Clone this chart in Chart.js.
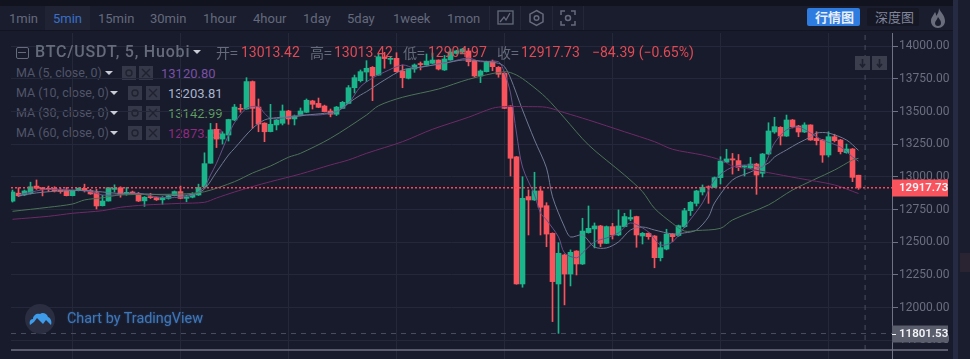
<!DOCTYPE html>
<html><head><meta charset="utf-8">
<script src="https://cdn.jsdelivr.net/npm/chart.js@4"></script>
<style>
html,body{margin:0;padding:0;width:970px;height:359px;overflow:hidden;background:#181b2b;font-family:Roboto,sans-serif}
#wrap{position:relative;width:970px;height:359px;overflow:hidden}
canvas{position:absolute;left:0;top:0;z-index:2}
.a{position:absolute}
.t{position:absolute;white-space:nowrap;line-height:1}
.tab{font-size:13px;top:12px;color:#646a7c}
.lb{font-size:14px;top:45px;color:#666b7c}
.rd{font-size:14px;top:45px;color:#e04a55}
.ma{font-size:12.5px;color:#50556a;z-index:1}
.box{position:absolute;width:14px;height:14px;background:#343848;z-index:1}
.car{position:absolute;width:0;height:0;border-left:4px solid transparent;border-right:4px solid transparent;border-top:4px solid #c9ccd6;z-index:3}
</style></head><body>
<div id="wrap">
<div class="a" style="left:0;top:0;width:953px;height:6px;background:#11131f"></div>
<div class="a" style="left:0;top:6px;width:953px;height:24px;background:#1a1d2e"></div>
<div class="a" style="left:0;top:30px;width:953px;height:1px;background:#121420"></div>
<div class="a" style="left:45px;top:6px;width:45px;height:24px;background:#1f2334"></div>
<div class="a" style="left:953px;top:0;width:5px;height:359px;background:#262a42"></div>
<div class="a" style="left:958px;top:0;width:12px;height:359px;background:#1a1d2e"></div>
<div class="a" style="left:960px;top:253px;width:10px;height:19px;background:#2a2332"></div>
<div class="a" style="left:489px;top:6px;width:1px;height:24px;background:#232738"></div>
<div class="a" style="left:520px;top:6px;width:1px;height:24px;background:#232738"></div>
<div class="a" style="left:552px;top:6px;width:1px;height:24px;background:#232738"></div>
<div class="a" style="left:583px;top:6px;width:1px;height:24px;background:#232738"></div>

<span class="t tab" style="left:9px">1min</span>
<span class="t tab" style="left:53px;color:#3a70c6">5min</span>
<span class="t tab" style="left:98px">15min</span>
<span class="t tab" style="left:150px">30min</span>
<span class="t tab" style="left:203px">1hour</span>
<span class="t tab" style="left:253px">4hour</span>
<span class="t tab" style="left:303px">1day</span>
<span class="t tab" style="left:347px">5day</span>
<span class="t tab" style="left:393px">1week</span>
<span class="t tab" style="left:447px">1mon</span>

<svg class="a" style="left:497px;top:9px" width="18" height="18" viewBox="0 0 18 18" fill="none" stroke="#656a7c" stroke-width="1.3"><rect x="1" y="2" width="15" height="13"/><path d="M3 13l4-5 2 3 4-7"/></svg>
<svg class="a" style="left:528px;top:9px" width="17" height="18" viewBox="0 0 17 18" fill="none" stroke="#656a7c" stroke-width="1.5"><path d="M8.5 1.5l6.5 3.7v7.6l-6.5 3.7-6.5-3.7V5.200z"/><circle cx="8.500" cy="9" r="2.300"/></svg>
<svg class="a" style="left:560px;top:10px" width="16" height="16" viewBox="0 0 16 16" fill="none" stroke="#656a7c" stroke-width="1.500"><path d="M1 5V1h4M11 1h4v4M15 11v4h-4M5 15H1v-4"/><circle cx="8" cy="8" r="2.500"/></svg>

<div class="a" style="left:807px;top:8px;width:53px;height:18px;background:#2f7ce0;border-radius:2px"></div>
<span class="t" style="left:815px;top:10px;font:700 13px 'Noto Sans CJK SC';line-height:14px;color:#e8eefa">行情图</span>
<div class="a" style="left:867px;top:8px;width:52px;height:18px;background:#151724;border-radius:2px"></div>
<span class="t" style="left:875px;top:10px;font:400 13px 'Noto Sans CJK SC';line-height:14px;color:#80859c">深度图</span>
<svg class="a" style="left:930px;top:8px" width="16" height="21" viewBox="0 0 16 21"><path d="M9 0c1 4 6 7 6 13 0 4-3 7-7 7s-7-3-7-7c0-4 3-6 4-9 1 1 1 3 1 4 2-2 3-5 3-8z" fill="#6a6e7c"/><path d="M8 9c1 2 3 3 3 6 0 2-1 3-3 3s-3-1-3-3c0-2 2-3 3-6z" fill="#1a1d2e"/></svg>

<div class="a" style="left:16px;top:47px;width:11px;height:10px;border:1px solid #666b7c;border-radius:2px;z-index:3"></div>
<div class="a" style="left:18px;top:52px;width:8px;height:1px;background:#666b7c;z-index:3"></div>
<span class="t" style="left:35px;top:44px;font-size:16px;font-weight:500;letter-spacing:.8px;color:#666b7c;z-index:3">BTC/USDT, 5, Huobi</span>
<div class="car" style="left:193px;top:50px"></div>
<span class="t lb" style="left:216px;z-index:3;font-family:'Noto Sans CJK SC'">开=</span><span class="t rd" style="left:241px;z-index:3">13013.42</span>
<span class="t lb" style="left:310px;z-index:3;font-family:'Noto Sans CJK SC'">高=</span><span class="t rd" style="left:334px;z-index:3">13013.42</span>
<span class="t lb" style="left:403px;z-index:3;font-family:'Noto Sans CJK SC'">低=</span><span class="t rd" style="left:428px;z-index:3">12904.97</span>
<span class="t lb" style="left:497px;z-index:3;font-family:'Noto Sans CJK SC'">收=</span><span class="t rd" style="left:521px;z-index:3">12917.73</span>
<span class="t rd" style="left:592px;z-index:3">−84.39 (−0.65%)</span>

<span class="t ma" style="left:16px;top:67px">MA (5, close, 0)</span><div class="car" style="left:105px;top:71px"></div>
<div class="box" style="left:122px;top:66px"></div><div class="box" style="left:139px;top:66px"></div>
<span class="t ma" style="left:161px;top:67px;color:#7a50a6;font-size:13px">13120.80</span>
<span class="t ma" style="left:16px;top:87px">MA (10, close, 0)</span><div class="car" style="left:110px;top:91px"></div>
<div class="box" style="left:128px;top:86px"></div><div class="box" style="left:146px;top:86px"></div>
<span class="t ma" style="left:168px;top:87px;color:#a8b4cc;font-size:13px">13203.81</span>
<span class="t ma" style="left:16px;top:107px">MA (30, close, 0)</span><div class="car" style="left:110px;top:111px"></div>
<div class="box" style="left:128px;top:106px"></div><div class="box" style="left:146px;top:106px"></div>
<span class="t ma" style="left:168px;top:107px;color:#5f9a62;font-size:13px">13142.99</span>
<span class="t ma" style="left:16px;top:127px">MA (60, close, 0)</span><div class="car" style="left:110px;top:131px"></div>
<div class="box" style="left:128px;top:126px"></div><div class="box" style="left:146px;top:126px"></div>
<span class="t ma" style="left:168px;top:127px;color:#8e2a80;font-size:13px">12873.23</span>
<svg class="a" style="left:122px;top:66px;z-index:1" width="38" height="74" viewBox="0 0 38 74" fill="none" stroke="#20232f" stroke-width="1.400">
<circle cx="7" cy="7" r="3"/><path d="M20 3l8 8M28 3l-8 8"/>
<circle cx="13" cy="27" r="3"/><path d="M27 23l8 8M35 23l-8 8"/>
<circle cx="13" cy="47" r="3"/><path d="M27 43l8 8M35 43l-8 8"/>
<circle cx="13" cy="67" r="3"/><path d="M27 63l8 8M35 63l-8 8"/>
</svg>

<div class="a" style="left:855px;top:56px;width:15px;height:14px;background:#3a3e4d;z-index:3"></div>
<div class="a" style="left:872px;top:56px;width:15px;height:14px;background:#3a3e4d;z-index:3"></div>
<svg class="a" style="left:855px;top:56px;z-index:4" width="32" height="14" viewBox="0 0 32 14" fill="none" stroke="#1e2130" stroke-width="1.600"><path d="M7.500 3v7M5 8l2.500 3L10 8M24.500 3v7M22 8l2.500 3L27 8"/></svg>

<div class="a" style="left:25px;top:304px;width:30px;height:30px;border-radius:50%;background:#2a2e40;z-index:3"></div>
<svg class="a" style="left:29px;top:311px;z-index:4" width="23" height="15" viewBox="0 0 23 15"><path d="M1 14c-1-3 0-6 3-6 0-4 4-6 7-5 2-2 7-1 8 3 3 1 4 5 3 8l-5-5-3 4-6-6-3 4z" fill="#3d9be9"/></svg>
<span class="t" style="left:67px;top:312px;font-size:14.4px;color:#3f76b8;z-index:3;text-shadow:0 0 2px #2b4c78">Chart by TradingView</span>

<canvas id="c" width="970" height="359"></canvas>
</div>
<script>
const open_ = [12815,12876,12863,12875,12930,12917,12913,12913,12900,12895,12857,12895,12913,12895,12880,12780,12816,12905,12918,12875,12885,12875,12817,12850,12842,12825,12836,12857,12888,12836,12845,12862,12925,13105,13365,13290,13321,13436,13525,13520,13730,13535,13412,13347,13398,13411,13505,13444,13470,13495,13582,13563,13543,13505,13480,13525,13563,13683,13737,13803,13839,13780,13918,13900,13908,13811,13755,13826,13868,13857,13870,13895,13819,13895,13946,13956,13964,13890,13773,13806,13882,13839,13793,13543,13155,12181,12850,12824,12893,12780,12569,12181,12403,12257,12433,12334,12574,12602,12625,12492,12620,12556,12620,12678,12697,12548,12569,12548,12382,12448,12563,12552,12620,12742,12798,12885,12925,12921,12995,13113,13139,13125,13075,13068,13099,13028,13176,13344,13380,13313,13436,13390,13344,13398,13295,13283,13168,13308,13283,13186,13214,13013.42];
const high_ = [12900,12918,12900,12960,12977,12920,12930,12925,12915,12920,12900,12918,12945,12905,12905,12860,12920,12940,12925,12920,12892,12882,12850,12875,12845,12850,12862,12893,12930,12860,12880,12945,13185,13410,13410,13346,13442,13555,13556,13760,13735,13597,13415,13556,13440,13551,13510,13474,13528,13597,13587,13604,13550,13520,13540,13578,13700,13780,13819,13890,13845,13941,13954,13918,13951,13857,13830,13865,13880,13941,13949,13897,13930,13979,13970,13985,13985,13895,13819,13887,13895,13845,13801,13545,13157,13002,12901,13036,12926,12803,12572,12497,12410,12442,12436,12684,12778,12648,12630,12625,12645,12748,12722,12748,12700,12575,12572,12552,12503,12600,12568,12632,12760,12812,12898,12939,12932,13000,13155,13212,13180,13172,13090,13150,13105,13180,13415,13457,13385,13474,13440,13395,13415,13400,13346,13288,13346,13327,13288,13252,13218,13013.42];
const low_ = [12808,12850,12858,12870,12905,12855,12888,12885,12875,12855,12855,12893,12885,12867,12755,12778,12815,12885,12845,12860,12870,12812,12775,12835,12820,12790,12830,12855,12833,12810,12840,12858,12920,13105,13225,13252,13275,13430,13495,13518,13372,13346,13270,13345,13360,13398,13403,13398,13468,13493,13520,13530,13498,13460,13470,13523,13560,13643,13727,13729,13584,13778,13832,13865,13801,13683,13750,13801,13819,13855,13868,13819,13815,13893,13940,13950,13850,13765,13722,13803,13813,13763,13523,13007,12179,12156,12556,12820,12556,12466,11893,11803,12021,12166,12250,12330,12570,12457,12467,12490,12525,12550,12618,12665,12462,12487,12523,12305,12357,12442,12505,12545,12612,12705,12778,12862,12798,12918,12946,13110,13022,13048,13007,13065,12867,13000,13172,13334,13245,13310,13375,13308,13340,13280,13245,13112,13153,13268,13176,13181,12964,12904.97];
const close_ = [12885,12856,12893,12925,12913,12905,12905,12895,12888,12857,12895,12913,12895,12870,12778,12816,12918,12913,12867,12882,12875,12816,12845,12842,12825,12842,12856,12888,12836,12848,12867,12920,13102,13360,13290,13330,13440,13535,13518,13730,13525,13405,13346,13403,13436,13505,13444,13467,13505,13587,13556,13533,13500,13480,13535,13571,13683,13760,13806,13832,13773,13920,13906,13908,13806,13760,13826,13857,13860,13887,13895,13826,13903,13956,13965,13979,13882,13773,13811,13882,13844,13786,13525,13143,12181,12837,12824,12893,12768,12563,12199,12416,12257,12423,12334,12586,12607,12625,12492,12620,12556,12625,12697,12690,12556,12569,12543,12382,12459,12563,12543,12627,12742,12806,12893,12921,12920,12995,13122,13138,13130,13072,13085,13099,13015,13176,13352,13385,13313,13436,13385,13344,13398,13283,13278,13168,13308,13278,13194,13214,12997,12917.73];

const ma5Idx = [1,4,6,10,13,15,17,21,23,26,30,32,33,34,36,37,39,41,42,43,45,48,51,54,56,58,60,62,65,67,70,73,76,78,81,82,83,84,85,87,88,89,91,92,94,95,97,99,101,103,106,108,110,112,115,117,120,123,125,127,129,131,133,135,138,140,141];
const ma5Val = [12862,12893,12906,12900,12887,12862,12862,12875,12855,12841,12862,12926,13015,13105,13321,13415,13525,13538,13487,13449,13451,13474,13474,13500,13564,13691,13757,13803,13857,13834,13857,13882,13910,13882,13882,13796,13643,13336,13076,12862,12724,12671,12541,12419,12381,12419,12503,12533,12572,12648,12579,12480,12503,12617,12801,12977,13076,13092,13076,13260,13360,13382,13336,13283,13229,13153,13120.80];
const ma10Idx = [1,4,8,12,15,18,22,26,30,32,34,36,37,40,42,44,47,49,52,54,56,58,59,62,65,67,72,75,78,81,82,83,85,87,89,90,92,93,95,97,99,101,103,105,107,110,112,114,116,117,120,123,126,127,129,131,133,134,136,139,141];
const ma10Val = [12854,12878,12893,12897,12885,12873,12870,12862,12866,12908,13038,13168,13219,13372,13436,13454,13461,13474,13487,13500,13566,13627,13653,13742,13819,13834,13870,13895,13888,13870,13844,13757,13513,13283,13069,12848,12617,12541,12556,12464,12457,12503,12594,12617,12594,12564,12572,12594,12694,12801,12977,13038,13107,13153,13207,13260,13306,13336,13336,13283,13203.81];
const ma30Idx = [0,6,10,12,15,18,28,32,37,40,43,46,48,53,59,61,65,71,76,82,84,86,89,92,96,102,105,107,110,112,114,118,120,126,130,137,140,141];
const ma30Val = [12737,12768,12793,12824,12841,12862,12870,12887,12964,13030,13084,13151,13181,13296,13474,13545,13610,13673,13747,13806,13780,13719,13604,13451,13245,13015,12887,12760,12645,12586,12590,12607,12671,12786,12900,13053,13130,13142.99];
const ma60Idx = [0,6,10,15,18,22,28,32,34,37,40,43,48,53,56,59,65,70,76,80,82,86,89,92,96,102,107,110,115,118,120,123,126,131,137,141];
const ma60Val = [12676,12699,12722,12742,12768,12785,12798,12806,12839,12885,12926,12964,13023,13092,13130,13181,13270,13365,13457,13526,13538,13538,13533,13492,13436,13346,13270,13212,13168,13130,13084,13059,13033,12990,12939,12873.23];

const yTicks = [14000,13750,13500,13250,13000,12750,12500,12250,12000,11750];
const xGridIdx = [10,28,46,64,82,100,118,136];
const lastPrice = 12917.73;
const crossPrice = 11801.53;
const crossIdx = 142.1;

const UP='#1ab58a', DOWN='#f9545d';
const idx = open_.map((_,i)=>i);
const cols = idx.map(i=>close_[i]>=open_[i]?UP:DOWN);
const pts = (a,b)=>a.map((x,i)=>({x,y:b[i]}));
const XMIN=-0.25, XMAX=146.5833, YMIN=11675.7, YMAX=14101.8;

const line=(data,color,w)=>({type:'line',data,borderColor:color,borderWidth:w||1,pointRadius:0,tension:.3,order:1});

const tags={id:'tags',afterDraw(ch){
  const c=ch.ctx,y=ch.scales.y,L=ch.chartArea.right;
  c.save();
  c.strokeStyle='#6f7284';c.lineWidth=1;
  c.beginPath();c.moveTo(L+.5,33);c.lineTo(L+.5,359);c.stroke();
  c.lineWidth=1.4;c.beginPath();c.moveTo(ch.chartArea.left,350);c.lineTo(948,350);c.stroke();
  const tag=(v,bg)=>{const p=y.getPixelForValue(v);
    c.fillStyle=bg;c.fillRect(L,Math.round(p)-8.5,56,17);
    c.fillStyle='#f4f5f8';c.font='600 11.5px Roboto';c.textBaseline='middle';c.textAlign='left';
    c.fillText(v.toFixed(2),L+7,Math.round(p)+.5);return p;};
  tag(lastPrice,'#f9545d');
  const p=tag(crossPrice,'#5a5d6b');
  c.fillStyle='#f4f5f8';c.fillRect(L,Math.round(p),4,1);
  c.restore();
}};

new Chart(document.getElementById('c'),{
  data:{datasets:[
    {type:'bar',data:idx.map(i=>({x:i,y:[low_[i],high_[i]]})),backgroundColor:cols,barThickness:1,grouped:false,order:3},
    {type:'bar',data:idx.map(i=>({x:i,y:[open_[i],close_[i]]})),backgroundColor:cols,barThickness:5,grouped:false,order:2},
    line(pts(ma60Idx,ma60Val),'#6f2a68'),
    line(pts(ma30Idx,ma30Val),'#4c7358'),
    line(pts(ma10Idx,ma10Val),'#6f7894'),
    line(pts(ma5Idx,ma5Val),'#65528a'),
    {type:'line',data:[{x:XMIN,y:lastPrice},{x:XMAX,y:lastPrice}],borderColor:'#ff4453',borderWidth:1.4,borderDash:[2,2],pointRadius:0,order:0},
    {type:'line',data:[{x:XMIN,y:crossPrice},{x:XMAX,y:crossPrice}],borderColor:'#4a4e60',borderWidth:1,borderDash:[5,5],pointRadius:0,order:0},
    {type:'line',data:[{x:crossIdx,y:YMIN},{x:crossIdx,y:YMAX}],borderColor:'#4a4e60',borderWidth:1,borderDash:[5,5],pointRadius:0,order:0}
  ]},
  options:{
    responsive:false,animation:false,events:[],
    layout:{padding:{left:11,top:33,right:0,bottom:0}},
    plugins:{legend:{display:false},tooltip:{enabled:false}},
    scales:{
      x:{type:'linear',offset:false,min:XMIN,max:XMAX,
        afterBuildTicks:a=>{a.ticks=xGridIdx.map(v=>({value:v}))},
        afterFit:a=>{a.height=9},
        ticks:{display:false,padding:0},
        border:{display:false},
        grid:{color:'#24283a',tickLength:9,tickColor:'#24283a',offset:false}},
      y:{type:'linear',position:'right',min:YMIN,max:YMAX,
        afterBuildTicks:a=>{a.ticks=yTicks.map(v=>({value:v}))},
        afterFit:a=>{a.width=78},
        ticks:{color:'#6a6e80',font:{family:'Roboto',size:12},padding:1,callback:v=>v.toFixed(2)},
        border:{display:false},
        grid:{color:'#24283a',tickLength:6,tickColor:'#6f7284'}}
    }
  },
  plugins:[tags]
});
</script>
</body></html>
